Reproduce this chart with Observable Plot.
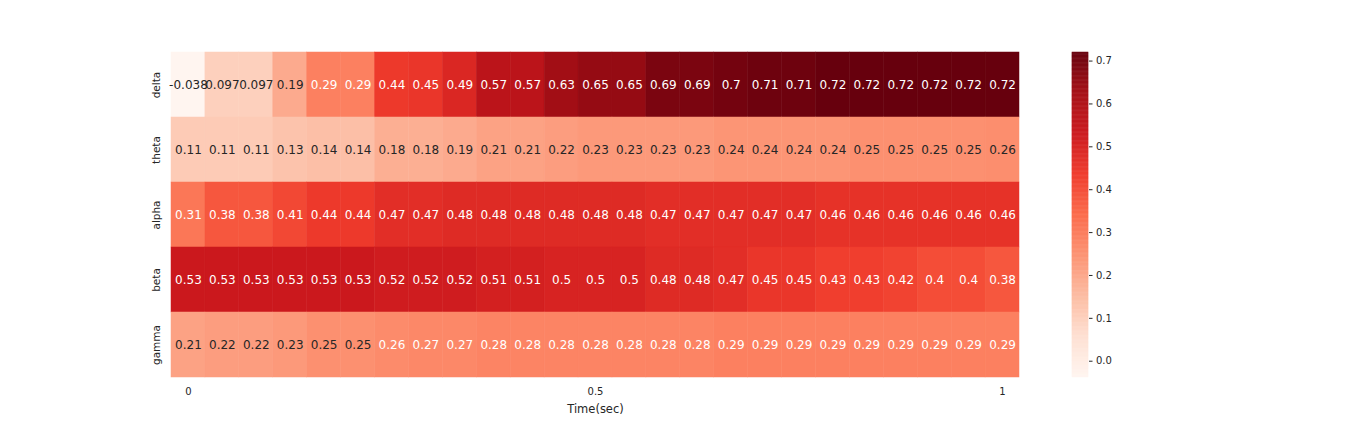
<!DOCTYPE html>
<html>
<head>
<meta charset="utf-8">
<script src="https://cdn.jsdelivr.net/npm/d3@7"></script>
<script src="https://cdn.jsdelivr.net/npm/@observablehq/plot@0.6"></script>
<style>
  html, body { margin: 0; padding: 0; background: white; }
  #wrap { position: relative; width: 1368px; height: 432px; }
  #wrap > svg { position: absolute; left: 0; top: 0; }
</style>
</head>
<body>
<div id="wrap"></div>
<script>
// ---- data ----
const bands = ["delta", "theta", "alpha", "beta", "gamma"];
const delta = [-0.038, 0.097, 0.097, 0.19, 0.29, 0.29, 0.44, 0.45, 0.49, 0.57, 0.57, 0.63, 0.65, 0.65, 0.69, 0.69, 0.70, 0.71, 0.71, 0.72, 0.72, 0.72, 0.72, 0.72, 0.72];
const theta = [0.11, 0.11, 0.11, 0.13, 0.14, 0.14, 0.18, 0.18, 0.19, 0.21, 0.21, 0.22, 0.23, 0.23, 0.23, 0.23, 0.24, 0.24, 0.24, 0.24, 0.25, 0.25, 0.25, 0.25, 0.256];
const alpha = [0.31, 0.38, 0.38, 0.41, 0.44, 0.44, 0.47, 0.47, 0.48, 0.48, 0.48, 0.48, 0.48, 0.48, 0.47, 0.47, 0.47, 0.47, 0.47, 0.46, 0.46, 0.46, 0.46, 0.46, 0.46];
const beta  = [0.53, 0.53, 0.53, 0.53, 0.53, 0.53, 0.52, 0.52, 0.52, 0.51, 0.51, 0.50, 0.50, 0.50, 0.48, 0.48, 0.47, 0.45, 0.45, 0.43, 0.43, 0.42, 0.40, 0.40, 0.38];
const gamma = [0.21, 0.22, 0.22, 0.23, 0.25, 0.25, 0.262, 0.27, 0.27, 0.28, 0.28, 0.28, 0.28, 0.28, 0.28, 0.28, 0.29, 0.29, 0.29, 0.29, 0.29, 0.29, 0.29, 0.29, 0.29];
const xTickIndex = [0, 12, 24];
const xTickLabels = ["0", "0.5", "1"];
const colorbarTicks = [0.0, 0.1, 0.2, 0.3, 0.4, 0.5, 0.6, 0.7];
const xLabel = "Time(sec)";

// matplotlib "Reds" colormap anchors
const redsAnchors = ["#fff5f0", "#fee0d2", "#fcbba1", "#fc9272", "#fb6a4a", "#ef3b2c", "#cb181d", "#a50f15", "#67000d"];

// ---- build ----
const series = [delta, theta, alpha, beta, gamma];
const columns = d3.range(delta.length);
const table = bands.flatMap((b, ri) => series[ri].map((v, ci) => ({band: b, col: ci, value: v})));
const vmin = d3.min(table, d => d.value);
const vmax = d3.max(table, d => d.value);
const interp = d3.piecewise(d3.interpolateRgb, redsAnchors);
const colorScale = {type: "linear", domain: [vmin, vmax], interpolate: interp};

function lin(c) { c = c / 255; return c <= 0.03928 ? c / 12.92 : Math.pow((c + 0.055) / 1.055, 2.4); }
function isLight(v) {
  const c = d3.rgb(interp((v - vmin) / (vmax - vmin)));
  const L = 0.2126 * lin(c.r) + 0.7152 * lin(c.g) + 0.0722 * lin(c.b);
  return L > 0.408;
}
const fmt2 = d3.format(".2~g");
const fmt = v => fmt2(v).replace("\u2212", "-");

const W = 1368, H = 432;
const font = "DejaVu Sans, Liberation Sans, sans-serif";

const main = Plot.plot({
  width: W, height: H,
  marginLeft: 171, marginRight: 349, marginTop: 52, marginBottom: 55,
  style: {fontFamily: font, fontSize: "10px", color: "#262626", background: "white"},
  x: {type: "band", domain: columns, padding: 0, round: false},
  y: {type: "band", domain: bands, padding: 0, round: false},
  color: colorScale,
  marks: [
    Plot.cell(table, {x: "col", y: "band", fill: "value", inset: 0, stroke: "value", strokeWidth: 0.5}),
    Plot.text(table.filter(d => isLight(d.value)), {x: "col", y: "band", text: d => fmt(d.value), fill: "#262626", fontSize: 12}),
    Plot.text(table.filter(d => !isLight(d.value)), {x: "col", y: "band", text: d => fmt(d.value), fill: "white", fontSize: 12}),
    Plot.axisX({ticks: xTickIndex, tickFormat: i => xTickLabels[xTickIndex.indexOf(i)], tickSize: 0, tickPadding: 10, label: null, fontSize: 10}),
    Plot.axisX({ticks: [], label: xLabel, labelAnchor: "center", labelArrow: "none", labelOffset: 35, fontSize: 11.5}),
    Plot.axisY({tickRotate: -90, tickSize: 0, tickPadding: 12, label: null, fontSize: 10.5})
  ]
});

const steps = d3.range(400).map(i => [vmin + (vmax - vmin) * i / 400, vmin + (vmax - vmin) * (i + 1) / 400]);
const bar = Plot.plot({
  width: W, height: H,
  marginLeft: 1072, marginRight: 280, marginTop: 52, marginBottom: 55,
  style: {fontFamily: font, fontSize: "10px", color: "#262626", background: "transparent"},
  x: {axis: null},
  y: {domain: [vmin, vmax]},
  color: colorScale,
  marks: [
    Plot.rect(steps, {y1: d => d[0], y2: d => d[1], fill: d => (d[0] + d[1]) / 2, stroke: d => (d[0] + d[1]) / 2, strokeWidth: 0.5}),
    Plot.axisY({anchor: "right", ticks: colorbarTicks, tickFormat: ".1f", tickSize: 3.5, tickPadding: 4, label: null, stroke: "#262626"})
  ]
});

const wrap = document.getElementById("wrap");
wrap.appendChild(main);
wrap.appendChild(bar);
</script>
</body>
</html>
